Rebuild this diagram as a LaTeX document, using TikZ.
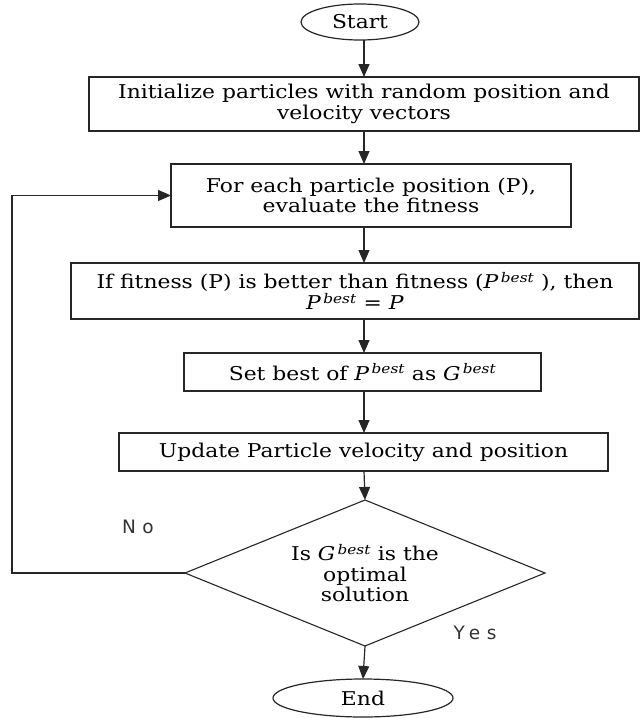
\documentclass[tikz,border=0pt]{standalone}
\usepackage{fontspec}
\setmainfont[FakeStretch=1.15]{DejaVu Serif}
\newfontfamily\labelfont[LetterSpace=35]{DejaVu Sans}
\newcommand{\Pbest}{\textit{P}\textsuperscript{\,\textit{best}}}
\newcommand{\Gbest}{\textit{G}\textsuperscript{\,\textit{best}}}
\usetikzlibrary{shapes.geometric,arrows.meta}
\begin{document}
\begin{tikzpicture}[x=1pt,y=-1pt,
  every node/.style={inner sep=0pt, outer sep=0pt},
  txt/.style={align=center, font=\fontsize{19}{20.5}\selectfont},
  procbox/.style={draw=black!85, line width=1.3pt, rectangle, txt},
  term/.style={draw=black!85, line width=1.2pt, ellipse, txt},
  decision/.style={draw=black!85, line width=1.1pt, diamond, aspect=2.46, txt},
  arr/.style={draw=black!85, line width=1.2pt, -{Triangle[length=13pt,width=11pt]}},
  lbl/.style={font=\fontsize{18.5}{20}\labelfont, text=black!80}
]
\useasboundingbox (0,0) rectangle (640,718);

\coordinate (ax) at (364,0);

\node[term, minimum width=118pt, minimum height=36pt] (start) at (360,22) {Start};
\node[procbox, minimum width=550pt, minimum height=54pt] (init) at (364,104)
  {Initialize particles with random position and\\velocity vectors};
\node[procbox, minimum width=400pt, minimum height=63pt] (fe) at (371,195.5)
  {For each particle position (P),\\evaluate the fitness};
\node[procbox, minimum width=568pt, minimum height=56pt] (iff) at (355,291)
  {If fitness (P) is better than fitness (\Pbest\ ), then\\\Pbest\ = \textit{P}};
\node[procbox, minimum width=357pt, minimum height=38pt] (setb) at (362.5,372)
  {Set best of \Pbest\ as \Gbest};
\node[procbox, minimum width=489pt, minimum height=38pt] (upd) at (363.5,452)
  {Update Particle velocity and position};
\node[decision, minimum width=360pt, minimum height=146pt] (dec) at (365,573)
  {Is \Gbest\ is the\\optimal\\solution};
\node[term, minimum width=180pt, minimum height=38pt] (end) at (363,698) {End};

\node[lbl] (no) at (138,527) {No};
\node[lbl] (yes) at (475,633) {Yes};

\coordinate (fb) at (12,573);

\draw[arr] (start.south -| ax) -- (init.north -| ax);
\draw[arr] (init.south -| ax) -- (fe.north -| ax);
\draw[arr] (fe.south -| ax) -- (iff.north -| ax);
\draw[arr] (iff.south -| ax) -- (setb.north -| ax);
\draw[arr] (setb.south -| ax) -- (upd.north -| ax);
\draw[arr] (upd.south -| ax) -- (dec.north);
\draw[arr] (dec.south) -- (end.north);
\draw[arr] (dec.west) -- (fb) |- (fe.west);
\end{tikzpicture}
\end{document}
